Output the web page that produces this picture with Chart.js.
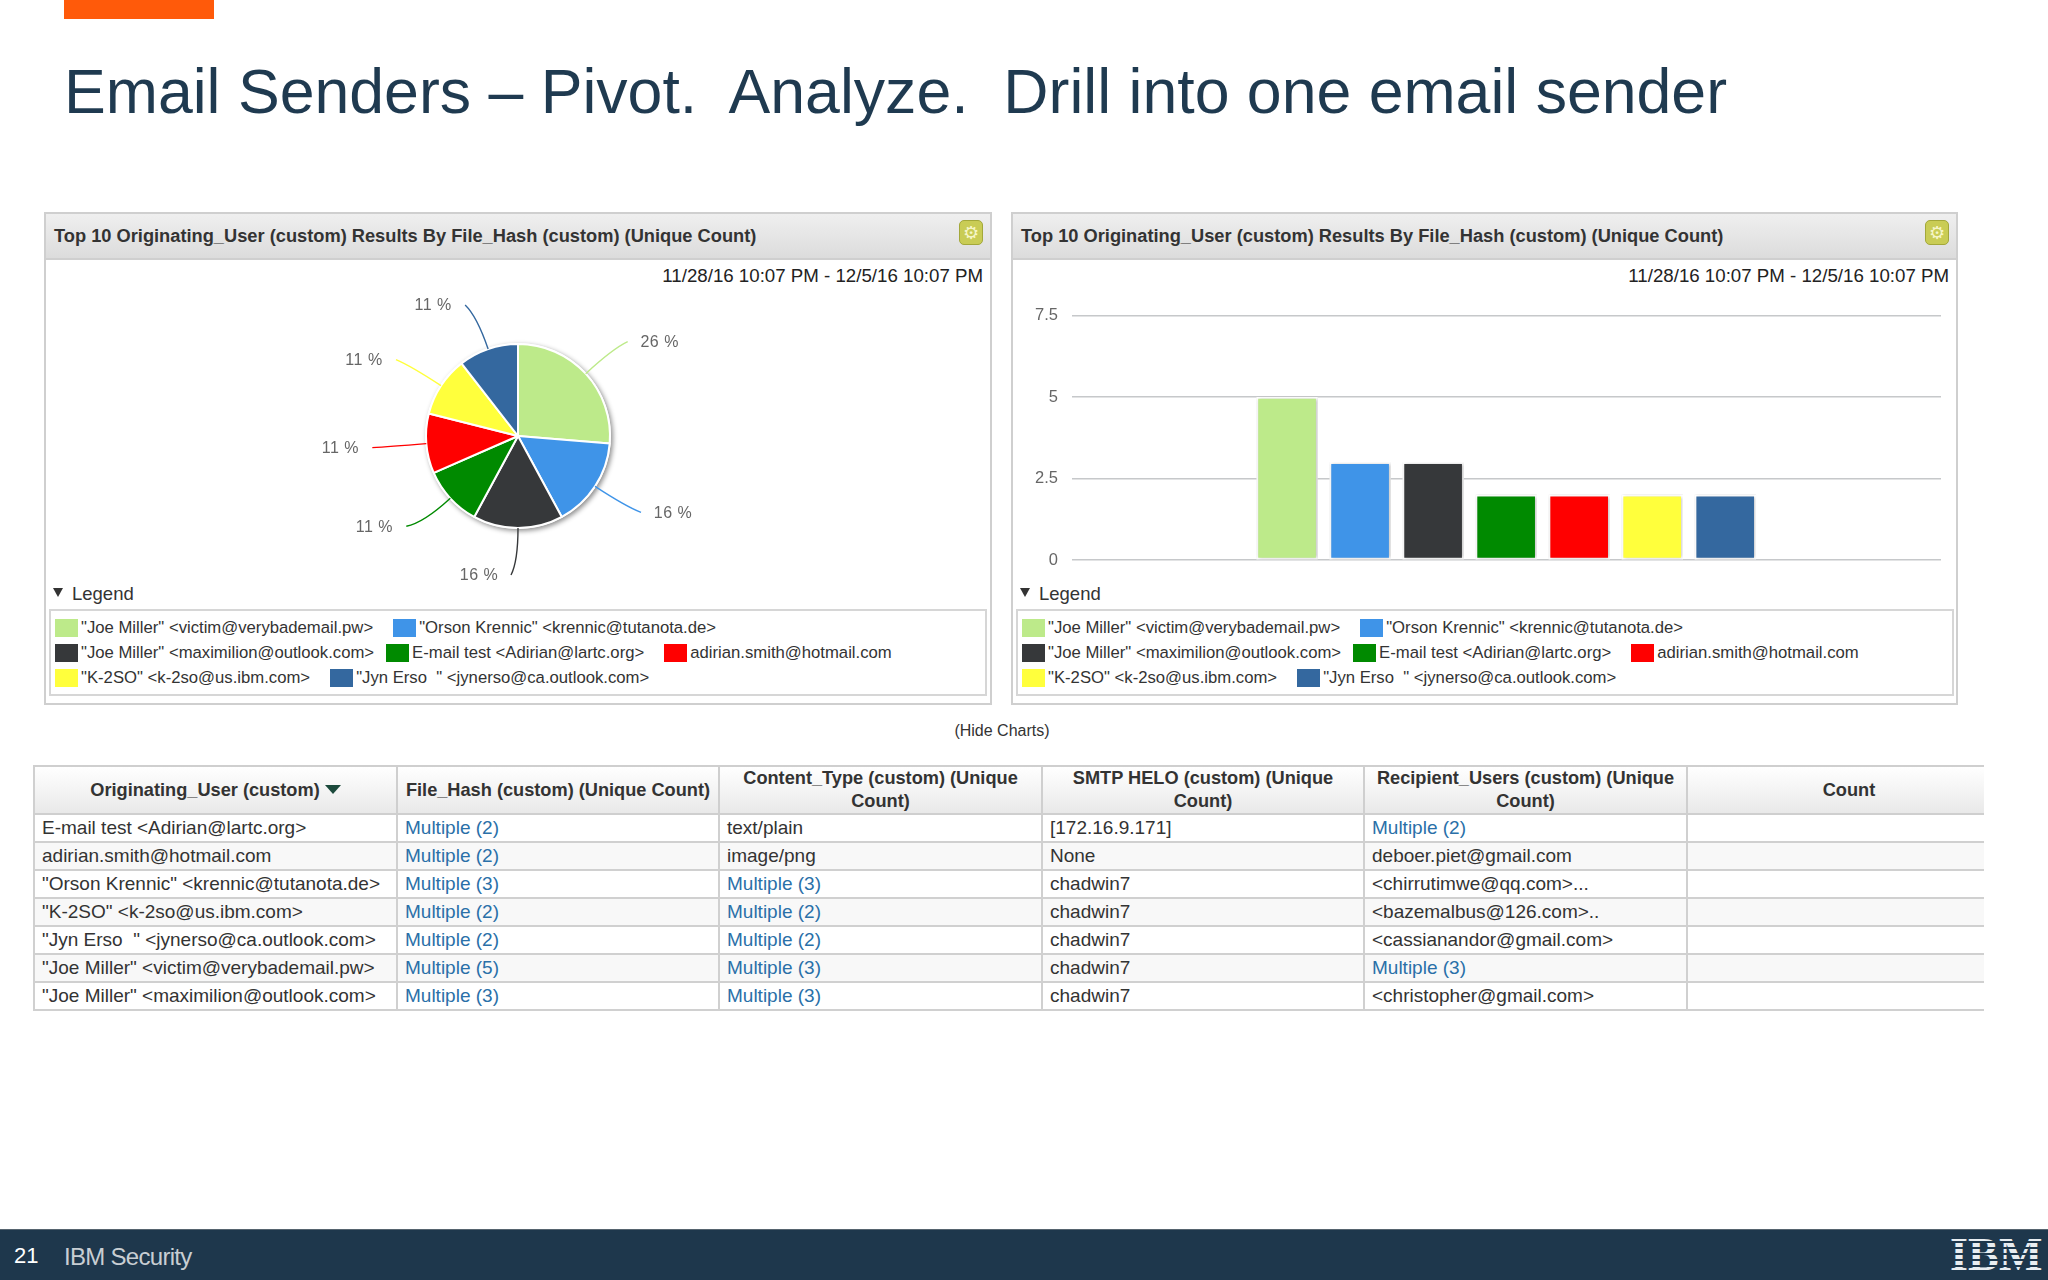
<!DOCTYPE html>
<html>
<head>
<meta charset="utf-8">
<title>Email Senders</title>
<script src="https://cdn.jsdelivr.net/npm/chart.js@4"></script>
<style>
  html, body { margin: 0; padding: 0; background: #fff; }
  body { position: relative; width: 2048px; height: 1280px; overflow: hidden; font-family: "Liberation Sans", Arial, sans-serif; color: #333; }
  .abs { position: absolute; }
  #accent { left: 64px; top: 0; width: 150px; height: 19px; background: #ff5a0a; }
  #title { left: 64px; top: 53px; font-size: 62.6px; line-height: 76px; color: #1f3a50; white-space: pre; }
  .panel { top: 212px; height: 489px; border: 2px solid #cfcfcf; background: #fff; }
  .panel-head { position: absolute; left: 0; top: 0; right: 0; height: 44px; border-bottom: 2px solid #cfcfcf;
    background: linear-gradient(#efefef, #dcdcdc); font-weight: bold; font-size: 18.25px; line-height: 44px; color: #333; padding-left: 8px; white-space: pre; }
  .gear { position: absolute; right: 7px; top: 6px; width: 22px; height: 23px; border: 1px solid #a3a83a; border-radius: 5px; background: #c9cc55; color: #f6f6c8; font-size: 18px; line-height: 23px; text-align: center; font-weight: normal; font-family: "DejaVu Sans"; }
  .range { position: absolute; right: 7px; top: 51px; font-size: 18.7px; line-height: 22px; color: #222; white-space: pre; }
  .legend-title { position: absolute; left: 26px; top: 369px; font-size: 18.5px; line-height: 22px; color: #333; }
  .legend-arrow { position: absolute; left: 7px; top: 374px; width: 0; height: 0; border-left: 5px solid transparent; border-right: 5px solid transparent; border-top: 9px solid #333; }
  .legend-box { position: absolute; left: 3px; top: 395px; width: 934px; height: 83px; border: 2px solid #d6d6d6; background: #fff; }
  .legend-row { position: absolute; left: 4px; height: 20px; display: flex; }
  .legend-item { display: flex; align-items: center; font-size: 16.7px; color: #333; white-space: pre; }
  .legend-swatch { width: 23px; height: 18px; margin-right: 3px; }
  canvas { position: absolute; }
  #hide { left: 902px; width: 200px; top: 722px; text-align: center; font-size: 16px; line-height: 18px; color: #333; }
  #grid-wrap { position: absolute; left: 33px; top: 765px; width: 1951px; height: 250px; overflow: hidden; }
  #grid { position: absolute; left: 0; top: 0; width: 1977px; border-collapse: collapse; table-layout: fixed; font-size: 19px; color: #333; }
  #grid th { height: 46px; padding: 0 4px; border: 2px solid #cfcfcf; background: linear-gradient(#fff, #e9e9e9); font-weight: bold; font-size: 18.2px; line-height: 23px; }
  #grid td { height: 26px; padding: 0 0 0 7px; border: 2px solid #d0d0d0; white-space: pre; overflow: hidden; line-height: 22px; }
  #grid tr:nth-child(even) td { background: #f8f8f8; }
  #grid th:first-child, #grid td:first-child { border-left: 2px solid #d0d0d0; }
  #grid a { color: #2a70a8; text-decoration: none; }
  .sort { display: inline-block; width: 0; height: 0; margin-left: 5px; vertical-align: 2px; border-left: 8px solid transparent; border-right: 8px solid transparent; border-top: 9px solid #1c4a3c; }
  #footer { left: 0; top: 1229px; width: 2048px; height: 51px; background: #1e374c; border-top: 1px solid #56646f; box-sizing: border-box; }
  #page { left: 14px; top: 13px; font-size: 22px; line-height: 26px; color: #fff; }
  #brand { left: 64px; top: 13px; font-size: 24px; line-height: 28px; color: #c8ced3; letter-spacing: -0.7px; }
  #logo { left: 1950px; top: 5px; font-family: "Liberation Serif", serif; font-weight: bold; font-size: 46px; line-height: 40px; color: #e8edf1; letter-spacing: 0.2px; }
  #logo::after { content: ""; position: absolute; inset: 0; background: repeating-linear-gradient(#1e374c 0, #1e374c 2px, transparent 2px, transparent 6px); }
</style>
</head>
<body>
<div class="abs" id="accent"></div>
<div class="abs" id="title">Email Senders – Pivot.  Analyze.  Drill into one email sender</div>

<div class="abs panel" id="panel-pie" style="left:44px;width:944px"></div>
<div class="abs panel" id="panel-bar" style="left:1011px;width:943px"></div>

<canvas id="pie-chart" style="left:46px;top:261px;width:944px;height:350px" width="944" height="350"></canvas>
<canvas id="bar-chart" style="left:1013px;top:261px;width:943px;height:323px" width="943" height="323"></canvas>

<div class="abs" id="hide">(Hide Charts)</div>
<div id="grid-wrap"><table id="grid"></table></div>

<div class="abs" id="footer">
  <div class="abs" id="page">21</div>
  <div class="abs" id="brand">IBM Security</div>
  <div class="abs" id="logo">IBM</div>
</div>

<script>
// Chart data
const users = [
  '"Joe Miller" <victim@verybademail.pw>',
  '"Orson Krennic" <krennic@tutanota.de>',
  '"Joe Miller" <maximilion@outlook.com>',
  'E-mail test <Adirian@lartc.org>',
  'adirian.smith@hotmail.com',
  '"K-2SO" <k-2so@us.ibm.com>',
  '"Jyn Erso  " <jynerso@ca.outlook.com>'
];
const fileHashCounts = [5, 3, 3, 2, 2, 2, 2];
const colors = ['#bdea8a', '#3f94e8', '#36383a', '#008a00', '#ff0000', '#ffff3c', '#34689f'];
const yTicks = [0, 2.5, 5, 7.5];
const legendRows = [[0, 1], [2, 3, 4], [5, 6]];

const panelTitle = 'Top 10 Originating_User (custom) Results By File_Hash (custom) (Unique Count)';
const dateRange = '11/28/16 10:07 PM - 12/5/16 10:07 PM';

// Table data
const tableHeaders = [
  'Originating_User (custom)', 'File_Hash (custom) (Unique Count)', 'Content_Type (custom) (Unique Count)',
  'SMTP HELO (custom) (Unique Count)', 'Recipient_Users (custom) (Unique Count)', 'Count'
];
const colWidths = [363, 322, 323, 322, 323, 324];
const colUser = [
  'E-mail test <Adirian@lartc.org>', 'adirian.smith@hotmail.com', '"Orson Krennic" <krennic@tutanota.de>',
  '"K-2SO" <k-2so@us.ibm.com>', '"Jyn Erso  " <jynerso@ca.outlook.com>',
  '"Joe Miller" <victim@verybademail.pw>', '"Joe Miller" <maximilion@outlook.com>'
];
const colHash = ['Multiple (2)', 'Multiple (2)', 'Multiple (3)', 'Multiple (2)', 'Multiple (2)', 'Multiple (5)', 'Multiple (3)'];
const colType = ['text/plain', 'image/png', 'Multiple (3)', 'Multiple (2)', 'Multiple (2)', 'Multiple (3)', 'Multiple (3)'];
const colHelo = ['[172.16.9.171]', 'None', 'chadwin7', 'chadwin7', 'chadwin7', 'chadwin7', 'chadwin7'];
const colRecipient = [
  'Multiple (2)', 'deboer.piet@gmail.com', '<chirrutimwe@qq.com>...', '<bazemalbus@126.com>..',
  '<cassianandor@gmail.com>', 'Multiple (3)', '<christopher@gmail.com>'
];

// Where each pie leader ends, relative to the slice's edge
const leaderEnds = [[42, -32], [46, 26], [-7, 47], [-44, 28], [-54, 4], [-45, -26], [-23, -44]];
// Space after each legend entry
const legendGaps = [20, 20, 12, 20, 20, 20, 20];

function el(tag, cls, text) {
  const e = document.createElement(tag);
  if (cls) e.className = cls;
  if (text !== undefined) e.textContent = text;
  return e;
}

function buildPanel(id) {
  const panel = document.getElementById(id);
  const head = el('div', 'panel-head', panelTitle);
  head.appendChild(el('span', 'gear', '⚙'));
  panel.appendChild(head);
  panel.appendChild(el('div', 'range', dateRange));
  panel.appendChild(el('div', 'legend-arrow'));
  panel.appendChild(el('div', 'legend-title', 'Legend'));
  const box = el('div', 'legend-box');
  legendRows.forEach((row, r) => {
    const line = el('div', 'legend-row');
    line.style.top = (7 + r * 25) + 'px';
    row.forEach(i => {
      const item = el('div', 'legend-item');
      item.style.marginRight = legendGaps[i] + 'px';
      const sw = el('span', 'legend-swatch');
      sw.style.background = colors[i];
      item.appendChild(sw);
      item.appendChild(el('span', '', users[i]));
      line.appendChild(item);
    });
    box.appendChild(line);
  });
  panel.appendChild(box);
}
buildPanel('panel-pie');
buildPanel('panel-bar');

// Table
function buildTable() {
  const table = document.getElementById('grid');
  const cols = el('colgroup');
  colWidths.forEach(w => { const c = el('col'); c.style.width = w + 'px'; cols.appendChild(c); });
  table.appendChild(cols);
  const head = el('tr');
  tableHeaders.forEach((h, i) => {
    const th = el('th', '', h);
    if (i === 0) th.appendChild(el('span', 'sort'));
    head.appendChild(th);
  });
  table.appendChild(head);
  colUser.forEach((u, i) => {
    const tr = el('tr');
    [u, colHash[i], colType[i], colHelo[i], colRecipient[i], ''].forEach(v => {
      const td = el('td');
      if (v.startsWith('Multiple')) td.appendChild(el('a', '', v));
      else td.textContent = v;
      tr.appendChild(td);
    });
    table.appendChild(tr);
  });
}
buildTable();

// Pie: soft shadow behind the disc, curved leaders and percent labels
const pieDecor = {
  id: 'pieDecor',
  beforeDatasetsDraw(chart) {
    const arc = chart.getDatasetMeta(0).data[0];
    const c = chart.ctx;
    c.save();
    c.shadowColor = 'rgba(0,0,0,0.45)';
    c.shadowBlur = 5;
    c.shadowOffsetX = 2;
    c.shadowOffsetY = 2;
    c.fillStyle = '#fff';
    c.beginPath();
    c.arc(arc.x, arc.y, arc.outerRadius + 1, 0, Math.PI * 2);
    c.fill();
    c.restore();
  },
  afterDatasetsDraw(chart) {
    const c = chart.ctx;
    const values = chart.data.datasets[0].data;
    const total = values.reduce((a, b) => a + b, 0);
    chart.getDatasetMeta(0).data.forEach((arc, i) => {
      const mid = (arc.startAngle + arc.endAngle) / 2;
      const sx = arc.x + Math.cos(mid) * arc.outerRadius;
      const sy = arc.y + Math.sin(mid) * arc.outerRadius;
      const ex = sx + leaderEnds[i][0];
      const ey = sy + leaderEnds[i][1];
      const reach = Math.hypot(leaderEnds[i][0], leaderEnds[i][1]) * 0.7;
      c.save();
      c.strokeStyle = colors[i];
      c.lineWidth = 1.4;
      c.beginPath();
      c.moveTo(sx, sy);
      c.quadraticCurveTo(sx + Math.cos(mid) * reach, sy + Math.sin(mid) * reach, ex, ey);
      c.stroke();
      c.fillStyle = '#666';
      c.font = '16px "Liberation Sans"';
      c.letterSpacing = '0.5px';
      c.textAlign = 'center';
      c.textBaseline = 'middle';
      const side = leaderEnds[i][0] > 0 ? 32 : -32;
      c.fillText(Math.round(values[i] / total * 100) + ' %', ex + side, ey + 1);
      c.restore();
    });
  }
};

new Chart(document.getElementById('pie-chart'), {
  type: 'pie',
  data: {
    labels: users,
    datasets: [{ data: fileHashCounts, backgroundColor: colors, borderColor: '#fff', borderWidth: 2 }]
  },
  options: {
    responsive: false, animation: false, radius: 92,
    plugins: { legend: { display: false }, tooltip: { enabled: false } }
  },
  plugins: [pieDecor]
});

// Bars: small drop shadow around each bar
const barShadow = {
  id: 'barShadow',
  beforeDatasetsDraw(chart) {
    const c = chart.ctx;
    c.save();
    c.shadowColor = 'rgba(0,0,0,0.28)';
    c.shadowBlur = 3;
    c.shadowOffsetX = 1;
    c.shadowOffsetY = 0;
  },
  afterDatasetsDraw(chart) { chart.ctx.restore(); }
};

new Chart(document.getElementById('bar-chart'), {
  type: 'bar',
  data: {
    datasets: [{
      data: fileHashCounts.map((v, i) => ({ x: i, y: v })),
      backgroundColor: colors, borderColor: '#fff', borderWidth: 2, borderSkipped: false, barThickness: 61
    }]
  },
  options: {
    responsive: false, animation: false,
    layout: { padding: { top: 54.5, right: 15, bottom: 2 } },
    plugins: { legend: { display: false }, tooltip: { enabled: false } },
    scales: {
      x: { type: 'linear', display: false, offset: false, min: -2.945, max: 8.955 },
      y: {
        min: 0, max: 7.5,
        afterBuildTicks: s => { s.ticks = yTicks.map(v => ({ value: v })); },
        afterFit: s => { s.width = 59; },
        border: { display: false },
        grid: { color: '#c6c8ca', lineWidth: 1.5, drawTicks: false },
        ticks: { padding: 14, color: '#666', font: { family: '"Liberation Sans"', size: 16.5 } }
      }
    }
  },
  plugins: [barShadow]
});
</script>
</body>
</html>
